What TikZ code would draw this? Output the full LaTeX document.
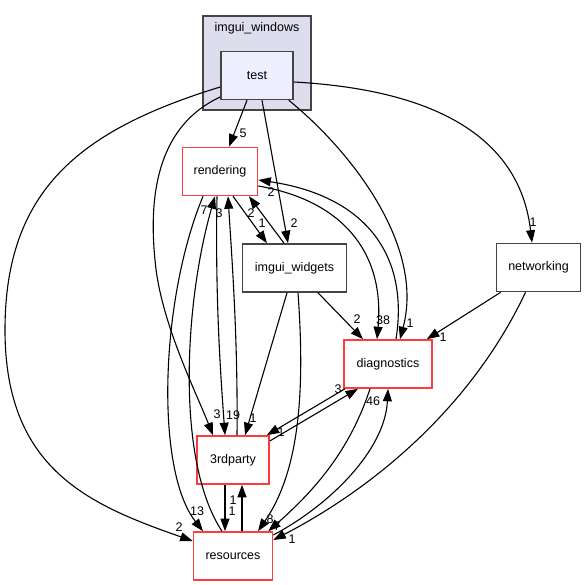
\documentclass[tikz,border=0pt]{standalone}
\usepackage{fontspec}
\setmainfont{Liberation Sans}
\usetikzlibrary{arrows.meta,calc}
\definecolor{bordc}{RGB}{68,68,68}
\definecolor{redc}{RGB}{255,60,60}
\definecolor{clfill}{RGB}{221,221,238}
\definecolor{testfill}{RGB}{238,238,255}
\tikzset{
  nbox/.style={draw=bordc, line width=1.6pt, fill=white, inner sep=0pt, minimum height=48pt, font=\fontsize{12.5}{14}\selectfont},
  rbox/.style={nbox, draw=redc},
  elab/.style={inner sep=0pt, font=\fontsize{12.5}{14}\selectfont},
  edge/.style={draw=black, line width=1.1pt, -{Triangle[length=12.5pt,width=9pt]}},
}
\begin{document}
\begin{tikzpicture}[x=1pt,y=-1pt]
\useasboundingbox (0,0) rectangle (586,585);
% cluster
\node[draw=bordc, line width=1.6pt, fill=clfill, minimum width=108pt, minimum height=94pt, inner sep=0pt] (cluster) at (257,63) {};
\node[elab, font=\fontsize{12.5}{14}\selectfont] (cltitle) at (257,28) {imgui\_windows};
% nodes
\node[nbox, fill=testfill, minimum width=72pt] (test) at (257,75.5) {test};
\node[rbox, minimum width=75pt] (rendering) at (220,171.5) {rendering};
\node[nbox, minimum width=104pt] (imgui) at (294.5,268) {imgui\_widgets};
\node[rbox, minimum width=88pt] (diag) at (388,364) {diagnostics};
\node[nbox, minimum width=84pt] (net) at (538.5,267.5) {networking};
\node[rbox, minimum width=72pt] (third) at (233,460) {3rdparty};
\node[rbox, minimum width=79pt] (res) at (233,556) {resources};
% edges from test
\draw[edge] ($(test.south)+(-10,0)$) -- ($(rendering.north)+(9,0)$);
\draw[edge] ($(test.south)+(5,0)$) -- ($(imgui.north)+(-6.5,0)$);
\draw[edge] ($(test.south east)+(-5,0)$) .. controls (350,150) and (425,245) .. ($(diag.north)+(12,0)$);
\draw[edge] ($(test.east)+(0,6.5)$) .. controls (440,90) and (520,140) .. ($(net.north)+(-6.5,0)$);
\draw[edge] ($(test.west)+(0,11.5)$) .. controls (80,130) and (5,190) .. (5,330) .. controls (5,470) and (90,505) .. ($(res.west)+(0,-15)$);
\draw[edge] ($(test.west)+(0,21.5)$) .. controls (160,125) and (148,190) .. (155,260) .. controls (160,320) and (195,390) .. ($(third.north)+(-20,0)$);
% rendering <-> imgui
\draw[edge] ($(rendering.south)+(13,0)$) -- ($(imgui.north)+(-27.5,0)$);
\draw[edge] ($(imgui.north)+(-10.5,0)$) -- ($(rendering.south)+(29,0)$);
% rendering <-> diagnostics
\draw[edge] ($(rendering.east)+(0,14.5)$) .. controls (340,200) and (385,250) .. ($(diag.north)+(-11,0)$);
\draw[edge] ($(diag.north)+(8,0)$) .. controls (410,250) and (360,195) .. ($(rendering.east)+(0,8.5)$);
% rendering <-> 3rdparty
\draw[edge] ($(rendering.south)+(-3,0)$) .. controls (215,300) and (221,380) .. ($(third.north)+(-8,0)$);
\draw[edge] ($(third.north)+(4,0)$) .. controls (238,340) and (232,260) .. ($(rendering.south)+(8,0)$);
% rendering <-> resources
\draw[edge] ($(rendering.south)+(-17,0)$) .. controls (160,300) and (155,470) .. ($(res.north)+(-30,0)$);
\draw[edge] ($(res.north)+(-11,0)$) .. controls (175,460) and (185,300) .. ($(rendering.south)+(-5,0)$);
% imgui_widgets
\draw[edge] ($(imgui.south)+(23.5,0)$) -- ($(diag.north)+(-25,0)$);
\draw[edge] ($(imgui.south)+(-7.5,0)$) -- ($(third.north)+(12,0)$);
\draw[edge] ($(imgui.south)+(3.5,0)$) .. controls (305,390) and (300,470) .. ($(res.north)+(25,0)$);
% diagnostics <-> 3rdparty
\draw[edge] ($(diag.south)+(-43,0)$) -- ($(third.north east)+(-3,0)$);
\draw[edge] ($(third.east)+(0,-19)$) -- ($(diag.south)+(-30,0)$);
% diagnostics <-> resources
\draw[edge] ($(diag.south)+(-18,0)$) .. controls (350,450) and (315,490) .. ($(res.north east)+(-5,0)$);
\draw[edge] ($(res.east)+(0,-21)$) .. controls (330,505) and (385,450) .. (diag.south);
% networking
\draw[edge] ($(net.south west)+(5,0)$) -- ($(diag.north east)+(-6,0)$);
\draw[edge] ($(net.south)+(-13,0)$) .. controls (470,410) and (370,490) .. ($(res.east)+(0,-16)$);
% 3rdparty <-> resources
\draw[edge] ($(third.south)+(-8,0)$) -- ($(res.north)+(-8,0)$);
\draw[edge] ($(res.north)+(9,0)$) -- ($(third.south)+(9,0)$);
% labels
\node[elab] (l1) at (243,133) {5};
\node[elab] (l2) at (294,223) {2};
\node[elab] (l3) at (410,323) {1};
\node[elab] (l4) at (533,222) {1};
\node[elab] (l5) at (179,527) {2};
\node[elab] (l6) at (217,414) {3};
\node[elab] (l7) at (262,223) {1};
\node[elab] (l8) at (251,213) {2};
\node[elab] (l9) at (383,320) {38};
\node[elab] (l10) at (271,192) {2};
\node[elab] (l11) at (233,415) {19};
\node[elab] (l12) at (219,213) {3};
\node[elab] (l13) at (197,511) {13};
\node[elab] (l14) at (204,210) {7};
\node[elab] (l15) at (357,319) {2};
\node[elab] (l16) at (253,418) {1};
\node[elab] (l17) at (270,519) {8};
\node[elab] (l18) at (281,432) {1};
\node[elab] (l19) at (338,389) {3};
\node[elab] (l20) at (277,526) {7};
\node[elab] (l21) at (373,401) {46};
\node[elab] (l22) at (443,337) {1};
\node[elab] (l23) at (292,539) {1};
\node[elab] (l24) at (232,511) {1};
\node[elab] (l25) at (233,500) {1};
\end{tikzpicture}
\end{document}
